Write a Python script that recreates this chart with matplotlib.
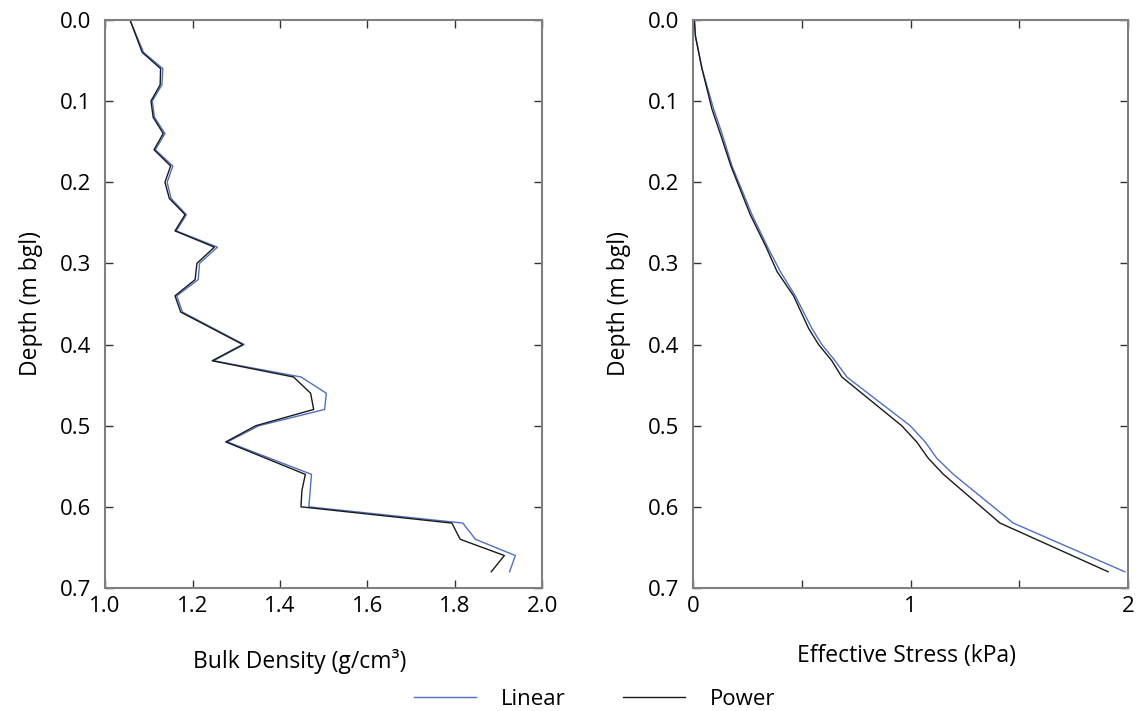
import matplotlib.pyplot as plt
from matplotlib.ticker import MultipleLocator

plt.rcParams['font.family'] = ['Open Sans', 'DejaVu Sans']

# Bulk density profile (g/cm3) vs depth (m bgl)
depth_bd = [0.00, 0.04, 0.06, 0.08, 0.10, 0.12, 0.14, 0.16, 0.18, 0.20, 0.22,
            0.24, 0.26, 0.28, 0.30, 0.32, 0.34, 0.36, 0.40, 0.42, 0.44, 0.46,
            0.48, 0.50, 0.52, 0.56, 0.58, 0.60, 0.62, 0.64, 0.66, 0.68]
bd_linear = [1.057, 1.088, 1.132, 1.130, 1.108, 1.113, 1.137, 1.115, 1.155, 1.142, 1.151,
             1.186, 1.163, 1.257, 1.216, 1.213, 1.164, 1.177, 1.318, 1.248, 1.448, 1.506,
             1.502, 1.352, 1.280, 1.472, 1.469, 1.466, 1.818, 1.847, 1.938, 1.925]
bd_power = [1.057, 1.085, 1.127, 1.126, 1.105, 1.110, 1.133, 1.112, 1.150, 1.137, 1.147,
            1.183, 1.160, 1.250, 1.210, 1.206, 1.160, 1.173, 1.315, 1.245, 1.431, 1.470,
            1.477, 1.345, 1.276, 1.458, 1.450, 1.448, 1.793, 1.812, 1.913, 1.883]

# Effective stress (kPa) vs depth
depth_es = [0.00, 0.02, 0.06, 0.11, 0.14, 0.18, 0.24, 0.28, 0.31, 0.34,
            0.38, 0.40, 0.42, 0.44, 0.50, 0.52, 0.54, 0.56, 0.62, 0.68]
es_linear = [0.006, 0.011, 0.041, 0.095, 0.133, 0.179, 0.271, 0.343, 0.401, 0.470,
             0.546, 0.592, 0.653, 0.707, 0.998, 1.067, 1.120, 1.197, 1.472, 1.985]
es_power = [0.006, 0.011, 0.041, 0.087, 0.125, 0.174, 0.263, 0.336, 0.386, 0.462,
            0.531, 0.577, 0.638, 0.684, 0.959, 1.028, 1.081, 1.151, 1.411, 1.908]

bd_ticks = [1.0, 1.2, 1.4, 1.6, 1.8, 2.0]
depth_ticks = [0.0, 0.1, 0.2, 0.3, 0.4, 0.5, 0.6, 0.7]

blue = '#5070c4'
black = '#1a1a1a'
spine_col = '#808080'

fig = plt.figure(figsize=(11.48, 7.11), dpi=100)
ax1 = fig.add_axes([0.0915, 0.173, 0.381, 0.799])
ax2 = fig.add_axes([0.6037, 0.173, 0.379, 0.799])

l1, = ax1.plot(bd_linear, depth_bd, color=blue, lw=1.0, label='Linear')
l2, = ax1.plot(bd_power, depth_bd, color=black, lw=1.0, label='Power')
ax2.plot(es_linear, depth_es, color=blue, lw=1.0)
ax2.plot(es_power, depth_es, color=black, lw=1.0)

ax1.set_xlim(1.0, 2.0)
ax1.set_xticks(bd_ticks)
ax1.set_xticklabels([f'{v:.1f}' for v in bd_ticks])
ax1.set_xlabel('Bulk Density (g/cm³)', fontsize=16.5, labelpad=23, x=0.446)

ax2.set_xlim(0, 2)
ax2.xaxis.set_major_locator(MultipleLocator(1))
ax2.xaxis.set_minor_locator(MultipleLocator(0.5))
ax2.set_xlabel('Effective Stress (kPa)', fontsize=16.5, labelpad=19, x=0.49)

for ax in (ax1, ax2):
    ax.set_ylim(0.7, 0.0)
    ax.set_yticks(depth_ticks)
    ax.set_yticklabels([f'{v:.1f}' for v in depth_ticks])
    ax.set_ylabel('Depth (m bgl)', fontsize=16.5, labelpad=12)
    ax.tick_params(which='both', direction='in', top=True, right=True,
                   length=6, width=1.0, color='#333333', labelsize=16, pad=6)
    ax.tick_params(axis='y', pad=10)
    for s in ax.spines.values():
        s.set_color(spine_col)
        s.set_linewidth(1.5)

fig.legend(handles=[l1, l2], loc='center', bbox_to_anchor=(0.518, 0.016),
           ncol=2, frameon=False, fontsize=16, handlelength=2.8,
           handletextpad=1.1, columnspacing=2.6)

fig.savefig('out.png', dpi=100)
